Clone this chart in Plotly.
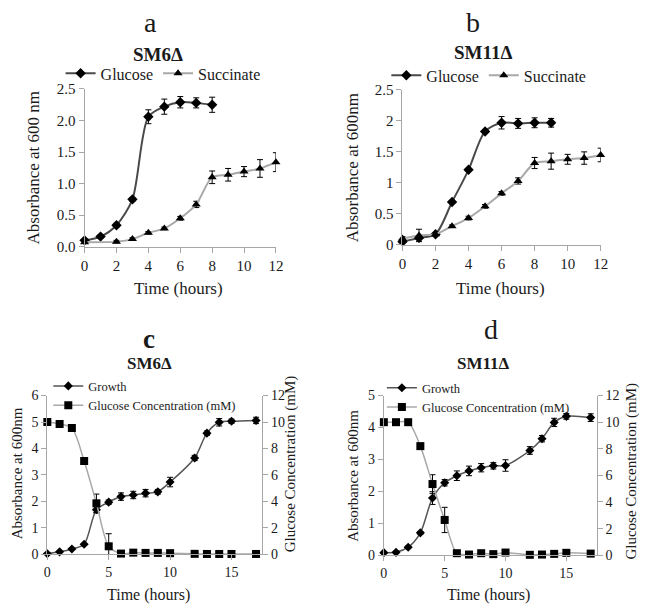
import plotly.graph_objects as go

# ---- data ----
# panel a  (SM6 delta, absorbance at 600 nm)
a_glu_x = [0, 1, 2, 3, 4, 5, 6, 7, 8]
a_glu_y = [0.10, 0.16, 0.34, 0.75, 2.06, 2.22, 2.29, 2.28, 2.25]
a_glu_err = [0.02, 0.02, 0.03, 0.03, 0.11, 0.12, 0.09, 0.08, 0.12]
a_suc_x = [0, 2, 3, 4, 5, 6, 7, 8, 9, 10, 11, 12]
a_suc_y = [0.07, 0.08, 0.12, 0.22, 0.29, 0.45, 0.67, 1.10, 1.14, 1.19, 1.24, 1.34]
a_suc_err = [0.02, 0.02, 0.02, 0.02, 0.02, 0.03, 0.05, 0.10, 0.10, 0.08, 0.14, 0.15]

# panel b  (SM11 delta)
b_glu_x = [0, 1, 2, 3, 4, 5, 6, 7, 8, 9]
b_glu_y = [0.05, 0.11, 0.17, 0.69, 1.21, 1.83, 1.97, 1.96, 1.97, 1.97]
b_glu_err = [0.02, 0.03, 0.02, 0.02, 0.02, 0.03, 0.10, 0.08, 0.08, 0.07]
b_suc_x = [0, 1, 2, 3, 4, 5, 6, 7, 8, 9, 10, 11, 12]
b_suc_y = [0.10, 0.15, 0.17, 0.30, 0.43, 0.62, 0.83, 1.03, 1.32, 1.35, 1.38, 1.40, 1.45]
b_suc_err = [0.03, 0.10, 0.02, 0.02, 0.03, 0.03, 0.03, 0.05, 0.09, 0.13, 0.08, 0.10, 0.11]

# panel c  (SM6 delta, growth + glucose concentration)
c_x = [0, 1, 2, 3, 4, 5, 6, 7, 8, 9, 10, 12, 13, 14, 15, 17]
c_growth = [0.02, 0.09, 0.20, 0.38, 1.68, 1.97, 2.18, 2.24, 2.31, 2.36, 2.73, 3.64, 4.58, 4.99, 5.03, 5.06]
c_growth_err = [0.01, 0.01, 0.02, 0.03, 0.12, 0.08, 0.14, 0.14, 0.14, 0.09, 0.18, 0.10, 0.08, 0.14, 0.08, 0.12]
c_gluc = [10.0, 9.85, 9.55, 7.05, 3.85, 0.60, 0.05, 0.12, 0.10, 0.10, 0.08, 0.03, 0.02, 0.02, 0.02, 0.02]
c_gluc_err = [0.05, 0.05, 0.08, 0.1, 0.70, 0.95, 0.05, 0.05, 0.05, 0.05, 0.05, 0.02, 0.02, 0.02, 0.02, 0.02]

# panel d  (SM11 delta)
d_x = [0, 1, 2, 3, 4, 5, 6, 7, 8, 9, 10, 12, 13, 14, 15, 17]
d_growth = [0.08, 0.09, 0.25, 0.70, 1.79, 2.27, 2.49, 2.64, 2.74, 2.80, 2.81, 3.28, 3.65, 4.16, 4.35, 4.31]
d_growth_err = [0.01, 0.01, 0.03, 0.04, 0.20, 0.10, 0.15, 0.15, 0.13, 0.10, 0.18, 0.12, 0.10, 0.13, 0.09, 0.12]
d_gluc = [10.0, 10.0, 10.0, 8.2, 5.35, 2.65, 0.15, 0.05, 0.15, 0.08, 0.20, 0.03, 0.05, 0.10, 0.18, 0.12]
d_gluc_err = [0.05, 0.05, 0.05, 0.1, 0.70, 0.95, 0.05, 0.05, 0.05, 0.05, 0.05, 0.02, 0.02, 0.02, 0.02, 0.02]

FONT = "Times New Roman, Liberation Serif, DejaVu Serif, serif"
TXT = "#1a1a1a"
AXC = "#a6a6a6"
DARK = "#4a4a4a"
LIGHT = "#a8a8a8"

# the page body keeps its default 8px margin, so the figure is made smaller
# and every position below is given in window pixels, then shifted back
PAGE_PAD = 8
W, H = 652 - 2 * PAGE_PAD, 615 - 2 * PAGE_PAD


def px(x):
    return (x - PAGE_PAD) / W


def py(y):
    return 1 - (y - PAGE_PAD) / H


def series(x, y, err, name, color, symbol, size, xa, ya, legend, width=2):
    return go.Scatter(
        x=x, y=y, name=name, mode="lines+markers",
        line=dict(color=color, width=width, shape="spline", smoothing=0.8),
        marker=dict(symbol=symbol, size=size, color="black"),
        error_y=dict(type="data", array=err, color="black", thickness=1, width=3),
        xaxis=xa, yaxis=ya, legend=legend, cliponaxis=False,
    )


fig = go.Figure()

# a
fig.add_trace(series(a_glu_x, a_glu_y, a_glu_err, "Glucose", DARK, "diamond", 8, "x", "y", "legend"))
fig.add_trace(series(a_suc_x, a_suc_y, a_suc_err, "Succinate", LIGHT, "triangle-up", 8, "x", "y", "legend"))
# b
fig.add_trace(series(b_glu_x, b_glu_y, b_glu_err, "Glucose", DARK, "diamond", 8, "x2", "y2", "legend2"))
fig.add_trace(series(b_suc_x, b_suc_y, b_suc_err, "Succinate", LIGHT, "triangle-up", 8, "x2", "y2", "legend2"))
# c
fig.add_trace(series(c_x, c_growth, c_growth_err, "Growth", "#555555", "diamond", 7, "x3", "y3", "legend3", 1.5))
fig.add_trace(series(c_x, c_gluc, c_gluc_err, "Glucose Concentration (mM)", LIGHT, "square", 8, "x3", "y4", "legend3", 1.5))
# d
fig.add_trace(series(d_x, d_growth, d_growth_err, "Growth", "#555555", "diamond", 7, "x4", "y5", "legend4", 1.5))
fig.add_trace(series(d_x, d_gluc, d_gluc_err, "Glucose Concentration (mM)", LIGHT, "square", 8, "x4", "y6", "legend4", 1.5))

axis_common = dict(
    showline=True, linecolor=AXC, linewidth=1, showgrid=False, zeroline=False,
    ticks="outside", ticklen=5, tickcolor=AXC, tickfont=dict(family=FONT, size=15, color=TXT),
)
small = dict(axis_common, tickfont=dict(family=FONT, size=14, color=TXT))

fig.update_layout(
    width=W, height=H, margin=dict(l=0, r=0, t=0, b=0),
    plot_bgcolor="white", paper_bgcolor="white",
    font=dict(family=FONT, color=TXT),
    xaxis=dict(axis_common, domain=[px(82), px(277)], range=[0, 12], tickvals=list(range(0, 13, 2)), anchor="y"),
    yaxis=dict(axis_common, domain=[py(245), py(83)], range=[0, 2.5], dtick=0.5, tickformat=".1f", anchor="x"),
    xaxis2=dict(axis_common, domain=[px(406), px(608)], range=[0, 12], tickvals=list(range(0, 13, 2)), anchor="y2"),
    yaxis2=dict(axis_common, domain=[py(243), py(84)], range=[0, 2.5], dtick=0.5, anchor="x2"),
    xaxis3=dict(small, domain=[px(44), px(263)], range=[0, 17.5], tickvals=[0, 5, 10, 15], anchor="y3"),
    yaxis3=dict(small, domain=[py(561), py(398)], range=[0, 6], dtick=1, anchor="x3"),
    yaxis4=dict(small, overlaying="y3", side="right", range=[0, 12], dtick=2, anchor="x3"),
    xaxis4=dict(small, domain=[px(387), px(604)], range=[0, 17.5], tickvals=[0, 5, 10, 15], anchor="y5"),
    yaxis5=dict(small, domain=[py(562), py(398)], range=[0, 5], dtick=1, anchor="x4"),
    yaxis6=dict(small, overlaying="y5", side="right", range=[0, 12], dtick=2, anchor="x4"),
    legend=dict(orientation="h", x=px(162), y=py(67), xanchor="center", yanchor="middle",
                font=dict(family=FONT, size=16, color=TXT), bgcolor="rgba(0,0,0,0)", itemwidth=30),
    legend2=dict(orientation="h", x=px(494), y=py(69), xanchor="center", yanchor="middle",
                 font=dict(family=FONT, size=16, color=TXT), bgcolor="rgba(0,0,0,0)", itemwidth=30),
    legend3=dict(x=px(45), y=py(373), xanchor="left", yanchor="top", tracegroupgap=0,
                 font=dict(family=FONT, size=12.5, color=TXT), bgcolor="rgba(0,0,0,0)", itemwidth=30),
    legend4=dict(x=px(385), y=py(375), xanchor="left", yanchor="top", tracegroupgap=0,
                 font=dict(family=FONT, size=12.5, color=TXT), bgcolor="rgba(0,0,0,0)", itemwidth=30),
)


def label(text, x, y, size, bold=False, angle=0):
    fig.add_annotation(
        text="<b>%s</b>" % text if bold else text, x=px(x), y=py(y), xref="paper", yref="paper",
        showarrow=False, textangle=angle, xanchor="center", yanchor="middle",
        font=dict(family=FONT, size=size, color=TXT),
    )


# panel letters and strain titles
label("a", 149, 15, 28)
label("SM6Δ", 157, 48, 19, bold=True)
label("b", 478, 15, 28)
label("SM11Δ", 488, 45, 19, bold=True)
label("c", 148, 340, 27, bold=True)
label("SM6Δ", 148, 365, 17, bold=True)
label("d", 496, 330, 28)
label("SM11Δ", 489, 365, 17, bold=True)

# axis titles
label("Time (hours)", 178, 288, 17)
label("Absorbance at 600 nm", 30, 164, 17, angle=-90)
label("Time (hours)", 506, 288, 17)
label("Absorbance at 600nm", 355, 164, 17, angle=-90)
label("Time (hours)", 147, 603, 16)
label("Absorbance at 600nm", 14, 478, 15, angle=-90)
label("Glucose Concentration (mM)", 292, 468, 15, angle=-90)
label("Time (hours)", 494, 603, 16)
label("Absorbance at 600nm", 356, 480, 15, angle=-90)
label("Glucose Concentration (mM)", 639, 476, 15, angle=-90)

fig.write_html("out.html")
